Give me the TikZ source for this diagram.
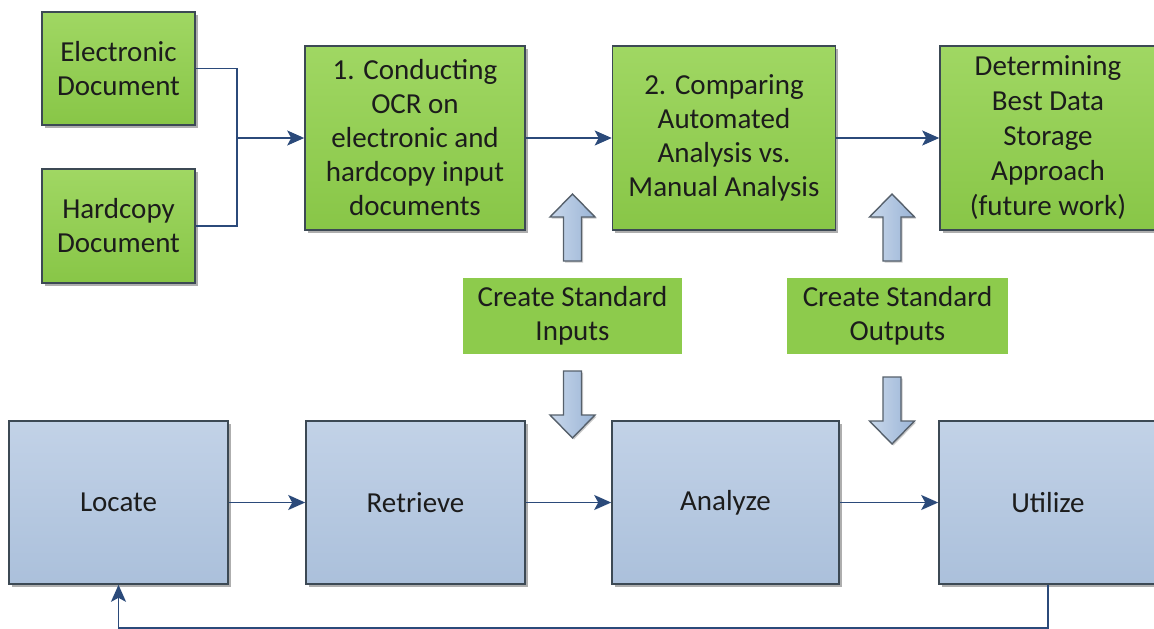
\documentclass[tikz,border=0pt]{standalone}
\usepackage{fontspec}
\setmainfont{Carlito}
\usetikzlibrary{shadows,arrows.meta}
\definecolor{bordc}{HTML}{3C4954}
\definecolor{greentop}{HTML}{A0D763}
\definecolor{greenbot}{HTML}{88C647}
\definecolor{greenflat}{HTML}{8DCB4C}
\definecolor{bluetop}{HTML}{C2D2E7}
\definecolor{bluebot}{HTML}{ABC0DB}
\definecolor{linec}{HTML}{2B4A7A}
\definecolor{arrowfillA}{HTML}{C9D8EB}
\definecolor{arrowfillB}{HTML}{9AB4D6}
\definecolor{arrowbord}{HTML}{56606B}
\definecolor{txt}{HTML}{1C1C1C}
\begin{document}
\begin{tikzpicture}[x=1pt,y=-1pt,
  basebox/.style={rectangle, inner sep=0pt, align=center, text=txt,
    font=\fontsize{29}{34}\selectfont},
  greenbox/.style={basebox, draw=bordc, line width=1.6pt, top color=greentop, bottom color=greenbot,
    drop shadow={shadow xshift=2.5pt, shadow yshift=-2.5pt, fill=black!70, opacity=0.45}},
  flatgreen/.style={basebox, fill=greenflat},
  bluebox/.style={basebox, draw=bordc, line width=1.6pt, top color=bluetop, bottom color=bluebot,
    drop shadow={shadow xshift=2.5pt, shadow yshift=-2.5pt, fill=black!70, opacity=0.45}},
  conn/.style={draw=linec, line width=1.7pt},
  arr/.style={conn, -{Stealth[length=17pt,width=15pt,inset=4pt]}},
  blockarrow/.style={draw=arrowbord, line width=1.4pt, left color=arrowfillA, right color=arrowfillB,
    drop shadow={shadow xshift=1.5pt, shadow yshift=-1.5pt, fill=black!60, opacity=0.35}},
  barrowdown/.pic={
    \path[blockarrow] (-9,0) -- (-9,44) -- (-22.5,44) -- (0,67) -- (22.5,44) -- (9,44) -- (9,0) -- cycle;
  }
]
\useasboundingbox[fill=white] (0,0) rectangle (1154,629);

% top row
\node[greenbox, minimum width=153pt, minimum height=113pt] (elec) at (118.5,68.5) {Electronic\\Document};
\node[greenbox, minimum width=153pt, minimum height=114pt] (hard) at (118.5,226) {Hardcopy\\Document};
\node[greenbox, minimum width=220pt, minimum height=184pt] (ocr) at (415,138)
  {1. Conducting\\OCR on\\electronic and\\hardcopy input\\documents};
\node[greenbox, minimum width=223pt, minimum height=184pt] (cmp) at (724,138)
  {2. Comparing\\Automated\\Analysis vs.\\Manual Analysis};
\node[greenbox, minimum width=216pt, minimum height=184pt, font=\fontsize{29}{35}\selectfont] (det) at (1048,138)
  {Determining\\Best Data\\Storage\\Approach\\(future work)};

% middle
\node[flatgreen, minimum width=219pt, minimum height=76pt] (csi) at (572.5,316) {Create Standard\\Inputs};
\node[flatgreen, minimum width=221pt, minimum height=76pt] (cso) at (897.5,316) {Create Standard\\Outputs};

% bottom row
\node[bluebox, minimum width=219pt, minimum height=163pt] (loc) at (118.5,502.5) {Locate};
\node[bluebox, minimum width=219pt, minimum height=163pt] (ret) at (415.5,502.5) {Retrieve};
\node[bluebox, minimum width=227pt, minimum height=163pt] (ana) at (725.5,502.5) {Analyze};
\node[bluebox, minimum width=218pt, minimum height=163pt] (uti) at (1048,502.5) {Utilize};

% block arrows
\pic[rotate=180] at (572.5,261) {barrowdown};
\pic[rotate=180] at (892,261) {barrowdown};
\pic at (572.5,371) {barrowdown};
\pic at (892,377) {barrowdown};

% connectors
\coordinate (j) at (237,138);
\draw[conn] (elec.east) -| (j);
\draw[conn] (hard.east) -| (j);
\draw[arr] (j) -- (ocr.west);
\draw[arr] (ocr.east) -- (cmp.west);
\draw[arr] (cmp.east) -- (det.west);
\draw[arr] (loc.east) -- (ret.west);
\draw[arr] (ret.east) -- (ana.west);
\draw[arr] (ana.east) -- (uti.west);
\coordinate (fb) at ([yshift=-43pt]uti.south);
\draw[arr] (uti.south) -- (fb) -| (loc.south);
\end{tikzpicture}
\end{document}
